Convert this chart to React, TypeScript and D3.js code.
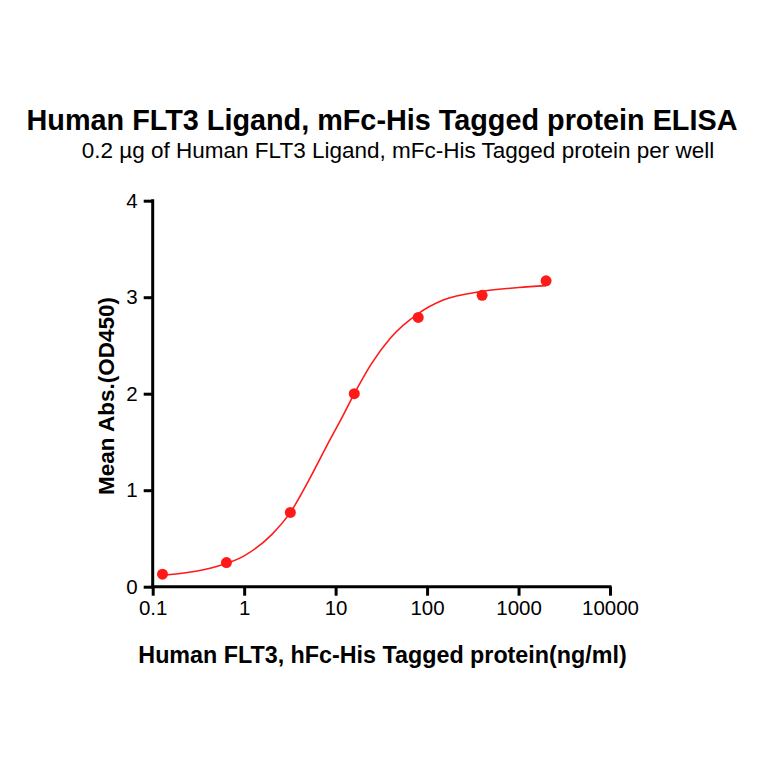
import React, { useEffect, useRef } from "react";
import * as d3 from "d3";

// ELISA readings (ng/ml vs OD450)
const concentrations = [0.128, 0.64, 3.2, 16, 80, 400, 2000];
const meanAbs = [0.13, 0.25, 0.77, 2.0, 2.79, 3.02, 3.17];

// fitted curve
const curveConc = [0.128, 0.25, 0.5, 1, 2, 3.2, 5, 8, 12, 16, 25, 40, 80, 150, 400, 1000, 2000];
const curveAbs = [0.12, 0.15, 0.21, 0.32, 0.54, 0.77, 1.09, 1.46, 1.77, 2.0, 2.32, 2.58, 2.83, 2.97, 3.06, 3.1, 3.12];

const xTicks = [0.1, 1, 10, 100, 1000, 10000];
const yTicks = [0, 1, 2, 3, 4];

const title = "Human FLT3 Ligand, mFc-His Tagged protein ELISA";
const subtitle = "0.2 \u00b5g of Human FLT3 Ligand, mFc-His Tagged protein per well";
const xLabel = "Human FLT3, hFc-His Tagged protein(ng/ml)";
const yLabel = "Mean Abs.(OD450)";

const W = 764;
const H = 764;
const FONT = "'Liberation Sans', Arial, sans-serif";
const RED = "#ff1a1a";

const App: React.FC = () => {
  const svgRef = useRef<SVGSVGElement>(null);

  useEffect(() => {
    document.body.style.margin = "0";
    const svg = d3.select(svgRef.current);
    svg.selectAll("*").remove();

    const x = d3.scaleLog().domain([0.1, 10000]).range([152.7, 610]);
    const y = d3.scaleLinear().domain([0, 4]).range([586.7, 200.7]);

    // titles
    svg
      .append("text")
      .attr("x", 382)
      .attr("y", 130)
      .attr("text-anchor", "middle")
      .attr("font-family", FONT)
      .attr("font-weight", "bold")
      .attr("font-size", 28.8)
      .text(title);
    svg
      .append("text")
      .attr("x", 398)
      .attr("y", 158)
      .attr("text-anchor", "middle")
      .attr("font-family", FONT)
      .attr("font-size", 22.5)
      .text(subtitle);

    // axes
    const xAxis = svg
      .append("g")
      .attr("transform", `translate(0,${y(0)})`)
      .call(
        d3
          .axisBottom(x)
          .tickValues(xTicks)
          .tickFormat((d) => String(d))
          .tickSizeInner(9)
          .tickSizeOuter(0)
          .tickPadding(5),
      );
    const yAxis = svg
      .append("g")
      .attr("transform", `translate(${x(0.1)},0)`)
      .call(
        d3
          .axisLeft(y)
          .tickValues(yTicks)
          .tickFormat((d) => String(d))
          .tickSizeInner(9)
          .tickSizeOuter(0)
          .tickPadding(6),
      );
    [xAxis, yAxis].forEach((g) => {
      g.select(".domain").attr("stroke", "#000").attr("stroke-width", 3);
      g.selectAll(".tick line").attr("stroke", "#000").attr("stroke-width", 3);
      g.selectAll(".tick text")
        .attr("font-family", FONT)
        .attr("font-size", 20.5)
        .attr("fill", "#000");
    });
    xAxis.select(".domain").attr("d", `M${x(0.1) - 1.5},0H${x(10000) + 1.5}`);
    yAxis.select(".domain").attr("d", `M0,${y(4) - 1.5}V${y(0) + 1.5}`);

    svg
      .append("text")
      .attr("x", 382.5)
      .attr("y", 663)
      .attr("text-anchor", "middle")
      .attr("font-family", FONT)
      .attr("font-weight", "bold")
      .attr("font-size", 23.3)
      .text(xLabel);
    svg
      .append("text")
      .attr("transform", `translate(114,396) rotate(-90)`)
      .attr("text-anchor", "middle")
      .attr("font-family", FONT)
      .attr("font-weight", "bold")
      .attr("font-size", 22.5)
      .text(yLabel);

    // curve
    const line = d3
      .line<number>()
      .x((d) => x(d))
      .y((_, i) => y(curveAbs[i]))
      .curve(d3.curveMonotoneX);
    svg
      .append("path")
      .attr("d", line(curveConc))
      .attr("fill", "none")
      .attr("stroke", RED)
      .attr("stroke-width", 1.6);

    svg
      .append("g")
      .selectAll("circle")
      .data(concentrations)
      .join("circle")
      .attr("cx", (d) => x(d))
      .attr("cy", (_, i) => y(meanAbs[i]))
      .attr("r", 5.5)
      .attr("fill", RED);
  }, []);

  return <svg ref={svgRef} width={W} height={H} style={{ display: "block", background: "#fff" }} />;
};

export default App;
